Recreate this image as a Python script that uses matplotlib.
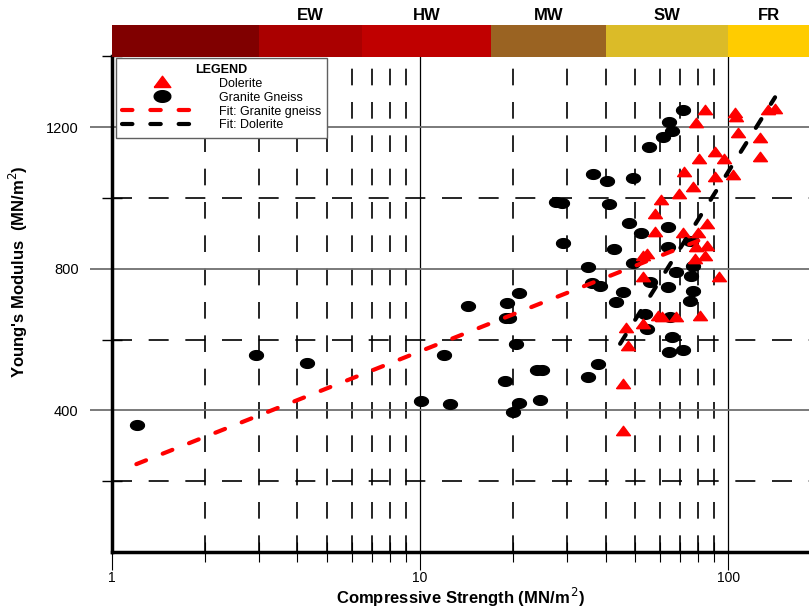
import matplotlib.pyplot as plt
import numpy as np
from matplotlib.lines import Line2D
from matplotlib.ticker import FixedLocator, NullFormatter

plt.rcParams['font.family'] = ['Liberation Sans', 'DejaVu Sans']

# Granite gneiss (black) : compressive strength, Young's modulus
gneiss_x = [1.21, 2.93, 4.30, 10.1, 12.5, 12.0, 14.3, 19.2, 19.0, 19.5, 20.9, 20.5,
            23.9, 24.8, 18.9, 20.9, 24.5, 20.1, 35.0, 37.9, 27.6, 28.9, 29.1, 35.0,
            36.1, 38.4, 36.5, 40.4, 41.1, 42.5, 43.2, 45.5, 47.8, 49.0, 49.0, 52.3,
            53.8, 54.4, 55.4, 55.6, 61.5, 63.7, 63.7, 63.7, 64.3, 65.7, 64.6, 65.5,
            64.2, 67.6, 71.4, 71.4, 75.3, 76.9, 76.0, 76.9, 75.3]
gneiss_y = [358, 557, 535, 426, 417, 557, 695, 703, 661, 661, 731, 588,
            515, 515, 484, 422, 428, 394, 495, 530, 989, 986, 872, 804,
            759, 751, 1066, 1048, 984, 855, 706, 733, 930, 1057, 815, 902,
            672, 630, 1144, 762, 1172, 919, 860, 748, 1214, 1189, 664, 608,
            565, 790, 1248, 571, 877, 807, 779, 737, 709]

# Dolerite (red)
dolerite_x = [45.5, 45.5, 47.2, 46.6, 52.8, 59.1, 67.5, 61.0, 81.2, 52.8, 93.5, 52.8,
              54.7, 57.8, 57.8, 60.6, 69.4, 76.9, 72.0, 78.7, 85.1, 78.2, 84.2, 71.4,
              79.8, 85.1, 90.7, 103.6, 80.4, 96.9, 127.0, 90.7, 127.0, 107.6, 78.7, 84.2,
              105.4, 106.0, 134.9, 142.0]
dolerite_y = [341, 473, 582, 633, 644, 667, 664, 664, 667, 776, 776, 835,
              841, 905, 955, 993, 1010, 1032, 1073, 860, 865, 826, 835, 902,
              902, 925, 1060, 1065, 1110, 1110, 1116, 1130, 1169, 1183, 1211, 1248,
              1239, 1228, 1248, 1251]

# fitted lines (end points)
fit_gneiss_x = [1.2, 80]
fit_gneiss_y = [248, 879]
fit_dol_x = [44.6, 142]
fit_dol_y = [588, 1284]

# weathering grade bands
band_edges = [1, 3, 6.5, 17, 40, 100, 200]
band_colors = ['#800000', '#aa0000', '#c00000', '#9a6322', '#dbbb28', '#ffcc00']
band_labels = ['', 'EW', 'HW', 'MW', 'SW', 'FR']

y_major = [400, 800, 1200]
y_minor = [200, 600, 1000, 1400]
x_major = [1, 10, 100]

xmax = 183

fig = plt.figure(figsize=(8.09, 6.11), dpi=100)
ax = fig.add_axes([0.1384, 0.0966, 0.8616, 0.8114])
ax.set_xscale('log')
ax.set_xlim(1, xmax)
ax.set_ylim(0, 1400)

# grids
ax.yaxis.set_major_locator(FixedLocator(y_major))
ax.yaxis.set_minor_locator(FixedLocator(y_minor))
ax.xaxis.set_major_locator(FixedLocator(x_major))
ax.xaxis.set_major_formatter(plt.FuncFormatter(lambda v, p: '%g' % v))
ax.xaxis.set_minor_formatter(NullFormatter())
ax.grid(True, which='major', axis='y', color='#707070', lw=1.3, ls='-')
ax.grid(True, which='minor', axis='y', color='black', lw=1.2, dashes=(12, 10))
ax.grid(True, which='major', axis='x', color='black', lw=0.9, ls='-')
ax.grid(True, which='minor', axis='x', color='black', lw=1.2, dashes=(10, 10))
ax.set_axisbelow(True)

ax.tick_params(axis='y', which='major', direction='out', length=16, width=1.3,
               color='#707070', labelsize=10.5, pad=8)
ax.tick_params(axis='y', which='minor', direction='inout', length=14, width=1, color='black')
ax.tick_params(axis='x', which='major', direction='out', length=13, width=0.8,
               color='black', labelsize=10, pad=1)
ax.tick_params(axis='x', which='minor', direction='inout', length=14, width=0.8, color='black')

for s in ['left', 'bottom']:
    ax.spines[s].set_linewidth(2.5)
for s in ['top', 'right']:
    ax.spines[s].set_visible(False)

ell = np.linspace(0, 2 * np.pi, 40)
ellipse = np.column_stack([np.cos(ell), 0.7 * np.sin(ell)])
tri = [(-1, -0.6), (1, -0.6), (0, 0.75), (-1, -0.6)]

ax.plot(gneiss_x, gneiss_y, ls='none', marker=ellipse, ms=10, color='black', zorder=3)
ax.plot(dolerite_x, dolerite_y, ls='none', marker=tri, ms=10, color='red', zorder=3)

ax.plot(fit_gneiss_x, fit_gneiss_y, color='red', lw=3, dashes=(2.5, 4.3),
        dash_capstyle='round', zorder=4)
ax.plot(fit_dol_x, fit_dol_y, color='black', lw=3, dashes=(2.5, 4.3),
        dash_capstyle='round', zorder=4)

ax.set_xlabel('Compressive Strength (MN/m$^{\\,2}$)', fontsize=12, fontweight='bold', labelpad=0)
ax.set_ylabel("Young's Modulus  (MN/m$^2$)", fontsize=12, fontweight='bold')
ax.yaxis.set_label_coords(-0.118, 0.565)

handles = [
    Line2D([], [], ls='none', marker=tri, ms=12, color='red'),
    Line2D([], [], ls='none', marker=ellipse, ms=12, color='black'),
    Line2D([], [], color='red', lw=3, dashes=(2.5, 4.3), dash_capstyle='round'),
    Line2D([], [], color='black', lw=3, dashes=(2.5, 4.3), dash_capstyle='round'),
]
labels = ['Dolerite', 'Granite Gneiss', 'Fit: Granite gneiss', 'Fit: Dolerite']
leg = ax.legend(handles, labels, title='LEGEND', loc='upper left',
                bbox_to_anchor=(0.006, 0.997), borderaxespad=0, fontsize=9,
                title_fontproperties={'weight': 'bold', 'size': 9},
                handlelength=6.4, handletextpad=1.3, labelspacing=0.15,
                borderpad=0.5, fancybox=False, framealpha=1, edgecolor='#606060')
leg.get_frame().set_linewidth(1)
leg.set_zorder(5)

# weathering bar on top
bar = fig.add_axes([0.1384, 0.9067, 0.8616, 0.052])
bar.set_xscale('log')
bar.set_xlim(1, xmax)
bar.set_ylim(0, 1)
for i in range(len(band_colors)):
    bar.axvspan(band_edges[i], band_edges[i + 1], color=band_colors[i], lw=0)
    xc = np.sqrt(band_edges[i] * min(band_edges[i + 1], xmax))
    bar.text(xc, 1.08, band_labels[i], ha='center', va='bottom', fontsize=12, fontweight='bold')
bar.axis('off')

fig.savefig('out.png', dpi=100)
